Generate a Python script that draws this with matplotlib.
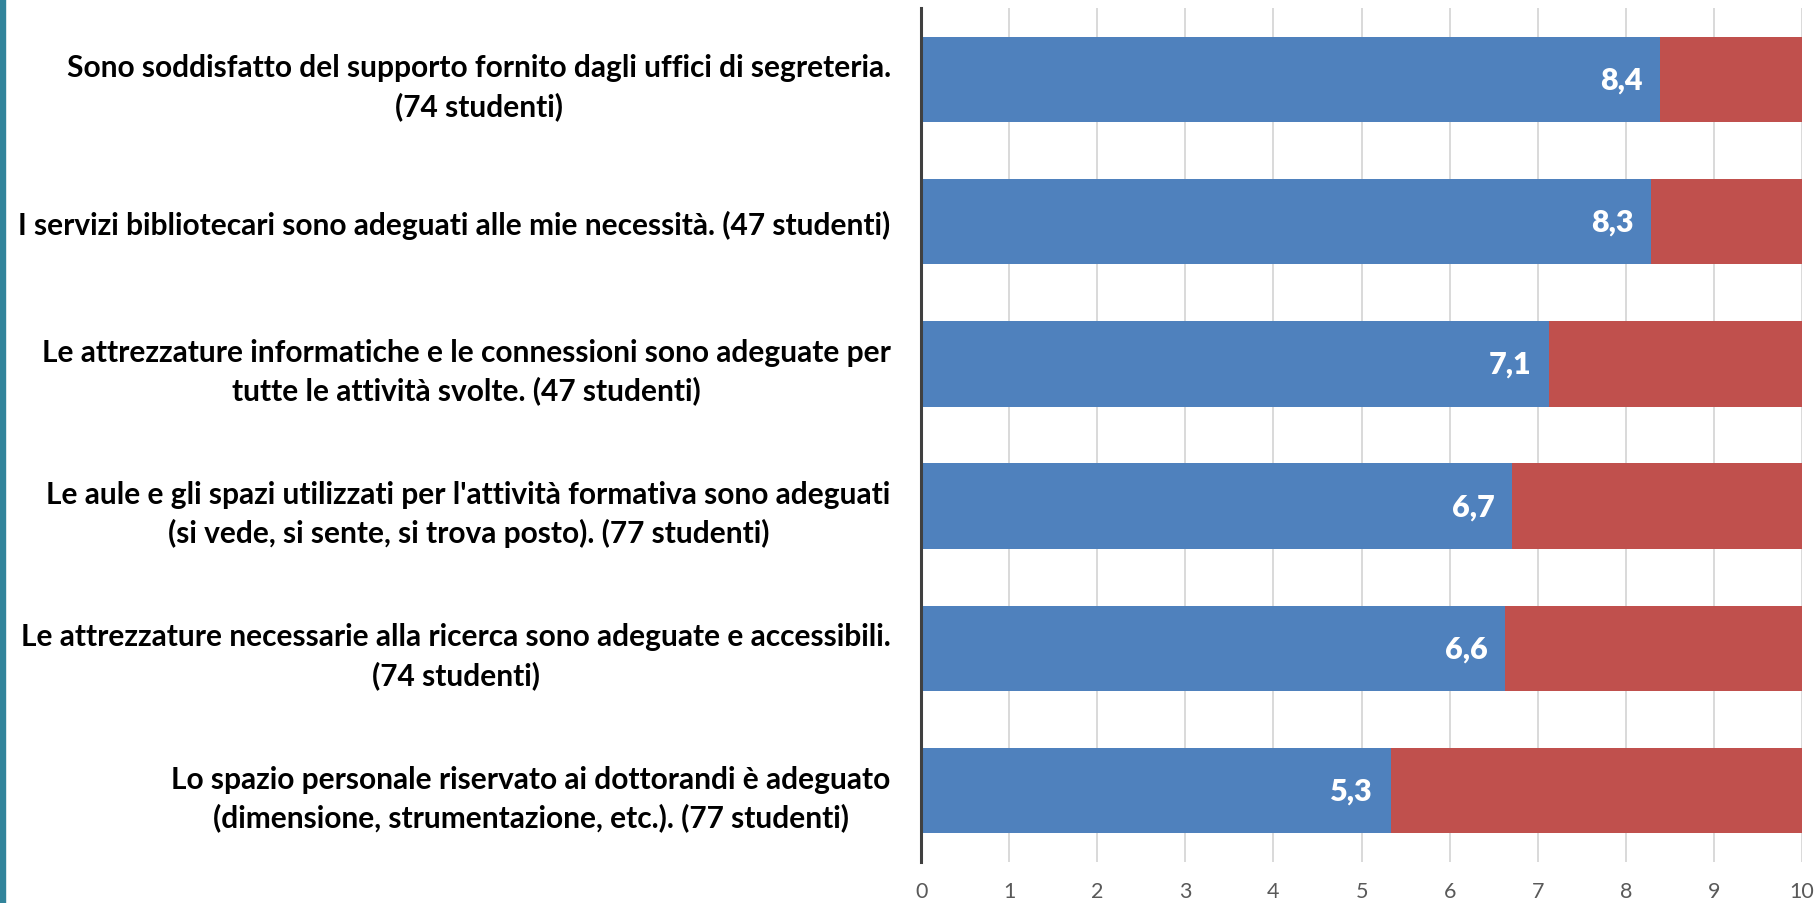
import matplotlib
matplotlib.use("Agg")
import matplotlib.pyplot as plt
from matplotlib.patches import Rectangle

categories = [
    "Sono soddisfatto del supporto fornito dagli uffici di segreteria.\n(74 studenti)",
    "I servizi bibliotecari sono adeguati alle mie necessità. (47 studenti)",
    "Le attrezzature informatiche e le connessioni sono adeguate per\ntutte le attività svolte. (47 studenti)",
    "Le aule e gli spazi utilizzati per l'attività formativa sono adeguati\n(si vede, si sente, si trova posto). (77 studenti)",
    "Le attrezzature necessarie alla ricerca sono adeguate e accessibili.\n(74 studenti)",
    "Lo spazio personale riservato ai dottorandi è adeguato\n(dimensione, strumentazione, etc.). (77 studenti)",
]
scores = [8.39, 8.29, 7.13, 6.71, 6.63, 5.33]
max_score = 10
remainder = [max_score - s for s in scores]
xticks = list(range(0, 11))

BLUE = "#4F81BD"
RED = "#C0504D"

fig = plt.figure(figsize=(18.17, 9.04), dpi=100)
ax = fig.add_axes([0.507, 0.0454, 0.4847, 0.9446])

y = list(range(len(categories)))
ax.barh(y, scores, height=0.6, color=BLUE, zorder=3)
ax.barh(y, remainder, left=scores, height=0.6, color=RED, zorder=3)

for yi, s in zip(y, scores):
    ax.text(s - 0.2, yi, f"{s:.1f}".replace(".", ","), ha="right", va="center",
            color="white", fontsize=22, fontweight="heavy", family="Lato", zorder=4)

ax.set_xlim(0, max_score)
ax.set_ylim(len(categories) - 0.5, -0.5)
ax.set_xticks(xticks)
ax.set_xticklabels([str(t) for t in xticks], fontsize=15.5, color="#595959", family="Lato")
ax.set_yticks(y)
ax.set_yticklabels(categories, fontsize=21.5, fontweight="bold", family="Lato",
                   multialignment="center", linespacing=1.4)
ax.tick_params(axis="both", length=0)
ax.tick_params(axis="x", pad=14)
ax.tick_params(axis="y", pad=22)

ax.grid(axis="x", color="#D9D9D9", linewidth=1.4, zorder=0)
ax.set_axisbelow(True)
for side in ["top", "right", "bottom"]:
    ax.spines[side].set_visible(False)
ax.spines["left"].set_color("#404040")
ax.spines["left"].set_linewidth(2.2)
ax.spines["left"].set_zorder(5)

fig.patches.append(Rectangle((0, 0), 5 / 1817, 1, transform=fig.transFigure,
                             color="#31849B", zorder=0))

fig.savefig("out.png", dpi=100)
